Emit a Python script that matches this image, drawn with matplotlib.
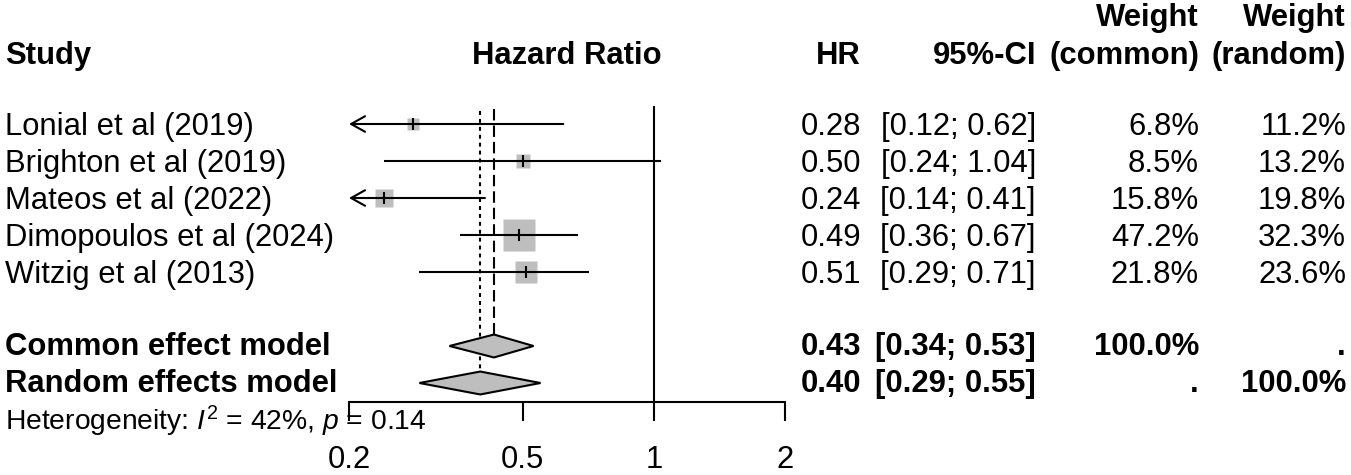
import matplotlib
matplotlib.use("Agg")
import matplotlib.pyplot as plt
import matplotlib.transforms as mtransforms
from matplotlib.patches import Polygon
import numpy as np

# ---------------- data ----------------
studies = ["Lonial et al (2019)", "Brighton et al (2019)", "Mateos et al (2022)",
           "Dimopoulos et al (2024)", "Witzig et al (2013)"]
hr = [0.28, 0.50, 0.24, 0.49, 0.51]
ci_lower = [0.12, 0.24, 0.14, 0.36, 0.29]
ci_upper = [0.62, 1.04, 0.41, 0.67, 0.71]
w_common = [6.8, 8.5, 15.8, 47.2, 21.8]
w_random = [11.2, 13.2, 19.8, 32.3, 23.6]

model_labels = ["Common effect model", "Random effects model"]
model_est = [0.43, 0.40]
model_lower = [0.34, 0.29]
model_upper = [0.53, 0.55]
model_wc = ["100.0%", "."]
model_wr = [".", "100.0%"]

i2 = 42
p_het = 0.14
xticks = [0.2, 0.5, 1, 2]
xlim = (0.2, 2)

# ---------------- style ----------------
plt.rcParams["font.family"] = ["Liberation Sans", "DejaVu Sans"]
plt.rcParams["mathtext.fontset"] = "custom"
plt.rcParams["mathtext.rm"] = "Liberation Sans"
plt.rcParams["mathtext.it"] = "Liberation Sans:italic"
FS = 22.3
LW = 1.5
GRAY = "#BEBEBE"

W, H = 1351, 475
fig = plt.figure(figsize=(W / 100, H / 100), dpi=100)
# forest axes: x from px 349 to 785, y from top(0) to axis line at px 402
ax = fig.add_axes([349 / W, (H - 402) / H, 436 / W, 402 / H])
row_px0 = 124.0
row_h = 37.0
ytop = 1 + (0 - row_px0) / row_h
ybot = 1 + (402 - row_px0) / row_h
ax.set_xscale("log")
ax.set_xlim(*xlim)
ax.set_ylim(ybot, ytop)
ax.patch.set_visible(False)
for s in ["top", "right", "left"]:
    ax.spines[s].set_visible(False)
ax.spines["bottom"].set_linewidth(LW)
ax.set_yticks([])
ax.set_xticks(xticks)
ax.set_xticklabels([f"{t:g}" for t in xticks])
ax.xaxis.set_minor_locator(matplotlib.ticker.NullLocator())
ax.tick_params(axis="x", direction="out", length=13.7, width=LW, labelsize=FS, pad=17)

tr = mtransforms.blended_transform_factory(fig.transFigure, ax.transData)
tr_ax = mtransforms.blended_transform_factory(ax.transAxes, ax.transData)
BASE = 0.31  # baseline offset from row centre (row units)

def txt(xpx, y, s, ha="left", bold=False, fs=FS):
    ax.text(xpx / W, y + BASE, s, transform=tr, ha=ha, va="baseline",
            fontsize=fs, fontweight="bold" if bold else "normal", clip_on=False)

X_STUDY, X_HR, X_CI, X_WC, X_WR = 5, 861, 1036, 1199, 1346

# headers
txt(X_STUDY, -0.92, "Study", bold=True)
ax.text(0.5, -0.92 + BASE, "Hazard Ratio", transform=tr_ax, ha="center", va="baseline",
        fontsize=FS, fontweight="bold", clip_on=False)
txt(X_HR, -0.92, "HR", ha="right", bold=True)
txt(X_CI, -0.92, "95%-CI", ha="right", bold=True)
txt(X_WC, -1.95, "Weight", ha="right", bold=True)
txt(X_WC, -0.92, "(common)", ha="right", bold=True)
txt(X_WR, -1.95, "Weight", ha="right", bold=True)
txt(X_WR, -0.92, "(random)", ha="right", bold=True)

# reference lines
ax.plot([1, 1], [0.5, ybot], color="black", lw=LW, solid_capstyle="butt", zorder=1)
ax.plot([model_est[0]] * 2, [0.6, 7 - 0.31], color="black", lw=LW,
        linestyle=(0, (5.5, 2.4)), zorder=1)
ax.plot([model_est[1]] * 2, [0.65, 8 - 0.31], color="black", lw=LW,
        linestyle=(0, (1.9, 1.9)), zorder=1)

# studies
for i, name in enumerate(studies):
    y = i + 1
    txt(X_STUDY, y, name)
    txt(X_HR, y, f"{hr[i]:.2f}", ha="right")
    txt(X_CI, y, f"[{ci_lower[i]:.2f}; {ci_upper[i]:.2f}]", ha="right")
    txt(X_WC, y, f"{w_common[i]:.1f}%", ha="right")
    txt(X_WR, y, f"{w_random[i]:.1f}%", ha="right")
    side_pt = 4.6 * np.sqrt(w_common[i]) * 0.72
    ax.plot([hr[i]], [y], marker="s", ms=side_pt, color=GRAY, mec="none", zorder=2)
    lo = max(ci_lower[i], xlim[0])
    hi = min(ci_upper[i], xlim[1])
    if ci_lower[i] < xlim[0]:
        ax.annotate("", xy=(lo, y), xytext=(hi, y), xycoords="data",
                    arrowprops=dict(arrowstyle="->,head_length=0.5,head_width=0.28",
                                    lw=LW, color="black", shrinkA=0, shrinkB=0,
                                    mutation_scale=20), zorder=3)
    else:
        ax.plot([lo, hi], [y, y], color="black", lw=LW, zorder=3, solid_capstyle="butt")
    ax.plot([hr[i]], [y], marker="|", ms=9, mew=LW, color="black", zorder=4)

# summaries
for j, lab in enumerate(model_labels):
    y = 7 + j
    txt(X_STUDY, y - 0.07, lab, bold=True)
    txt(X_HR, y - 0.07, f"{model_est[j]:.2f}", ha="right", bold=True)
    txt(X_CI, y - 0.07, f"[{model_lower[j]:.2f}; {model_upper[j]:.2f}]", ha="right", bold=True)
    txt(X_WC, y - 0.07, model_wc[j], ha="right", bold=True)
    txt(X_WR, y - 0.07, model_wr[j], ha="right", bold=True)
    hh = 0.31
    poly = Polygon([(model_lower[j], y), (model_est[j], y - hh), (model_upper[j], y),
                    (model_est[j], y + hh)], closed=True, facecolor=GRAY,
                   edgecolor="black", lw=LW, zorder=3)
    ax.add_patch(poly)

txt(X_STUDY, 8.98, rf"Heterogeneity: $I^{{2}}$ = {i2}%, $p$ = {p_het:.2f}", fs=20.3)

fig.savefig("out.png", dpi=100)
